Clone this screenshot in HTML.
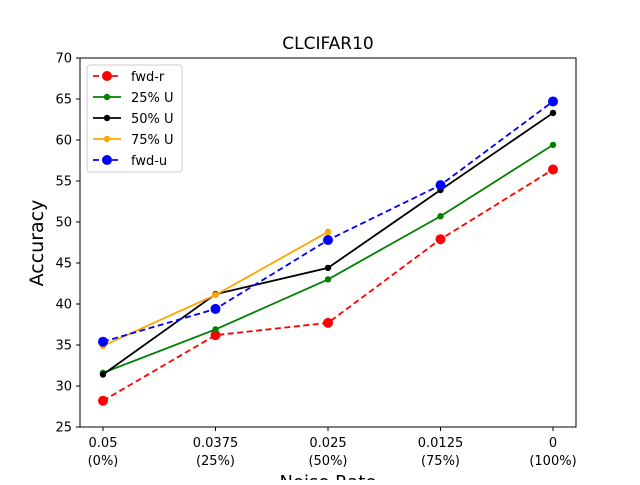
<!DOCTYPE html>
<html><head><meta charset="utf-8"><style>
body{margin:0;background:#fff;width:640px;height:480px;overflow:hidden}
text{font-family:"DejaVu Sans","Liberation Sans",sans-serif}
</style></head><body>
<svg id="chart" width="640" height="480" xmlns="http://www.w3.org/2000/svg">
<text x="328" y="49" font-size="17" text-anchor="middle">CLCIFAR10</text>
<text transform="translate(43,243) rotate(-90)" font-size="19" text-anchor="middle">Accuracy</text>
<text x="328" y="488" font-size="18" text-anchor="middle">Noise Rate</text>
<g id="ticks"></g>
<g id="series"></g>
<rect x="80" y="58" width="496" height="369" fill="none" stroke="#000" stroke-width="1"/>
<g id="legend"></g>
</svg>
<script>
const categories=["0.05","0.0375","0.025","0.0125","0"];
const categorySub=["(0%)","(25%)","(50%)","(75%)","(100%)"];
const yTicks=[25,30,35,40,45,50,55,60,65,70];
const fwdR=[28.2,36.2,37.7,47.9,56.4];
const u25=[31.6,36.9,43.0,50.7,59.4];
const u50=[31.4,41.2,44.4,53.9,63.3];
const u75=[34.9,41.1,48.8];
const fwdU=[35.4,39.4,47.8,54.5,64.7];
const NS="http://www.w3.org/2000/svg";
const x=i=>103+i*112.5;
const y=v=>427-(v-25)*(369/45);
function mk(t,a,p){const e=document.createElementNS(NS,t);for(const k in a)e.setAttribute(k,a[k]);p.appendChild(e);return e;}
const tk=document.getElementById('ticks');
yTicks.forEach(v=>{
 const l=mk('line',{x1:76,x2:80,y1:y(v),y2:y(v),stroke:'#000'},tk);
 
 
 const t=mk('text',{x:72,y:y(v)+4.5,'font-size':13,'text-anchor':'end'},tk);
 
 
 t.textContent=v;
});
categories.forEach((c,i)=>{
 const l=mk('line',{x1:x(i),x2:x(i),y1:427,y2:431,stroke:'#000'},tk);
 
 
 const t=mk('text',{x:x(i),y:447,'font-size':13,'text-anchor':'middle'},tk);
 
 
 t.textContent=c;
 const t2=mk('text',{x:x(i),y:465,'font-size':13,'text-anchor':'middle'},tk);
 
 
 t2.textContent=categorySub[i];
});
const series=[
 {n:'fwd-r',d:fwdR,c:'red',dash:'6,3.5',r:5},
 {n:'25% U',d:u25,c:'green',dash:'',r:3.2},
 {n:'50% U',d:u50,c:'black',dash:'',r:3.2},
 {n:'75% U',d:u75,c:'orange',dash:'',r:3.2},
 {n:'fwd-u',d:fwdU,c:'blue',dash:'6,3.5',r:5}];
const sg=document.getElementById('series');
series.forEach(s=>{
 const g=mk('g',{},sg);
 
 
 const p=mk('polyline',{points:s.d.map((v,i)=>x(i)+','+y(v)).join(' '),fill:'none',stroke:s.c,'stroke-width':1.8,'stroke-dasharray':s.dash},g);
 
 
 s.d.forEach((v,i)=>{
  const m=mk('circle',{cx:x(i),cy:y(v),r:s.r,fill:s.c},g);
  
  
 });
});
const lg=document.getElementById('legend');
mk('rect',{x:87,y:65,width:95,height:107,rx:3,fill:'#fff','fill-opacity':0.8,stroke:'#ccc'},lg);
series.forEach((s,i)=>{
 const yy=76+i*21;
 const e=mk('g',{},lg);
 
 
 mk('line',{x1:93,x2:121,y1:yy,y2:yy,stroke:s.c,'stroke-width':1.8,'stroke-dasharray':s.dash},e);
 mk('circle',{cx:107,cy:yy,r:s.r,fill:s.c},e);
 const t=mk('text',{x:131,y:yy+5,'font-size':13},e);
 t.textContent=s.n;
});
</script>
</body></html>
